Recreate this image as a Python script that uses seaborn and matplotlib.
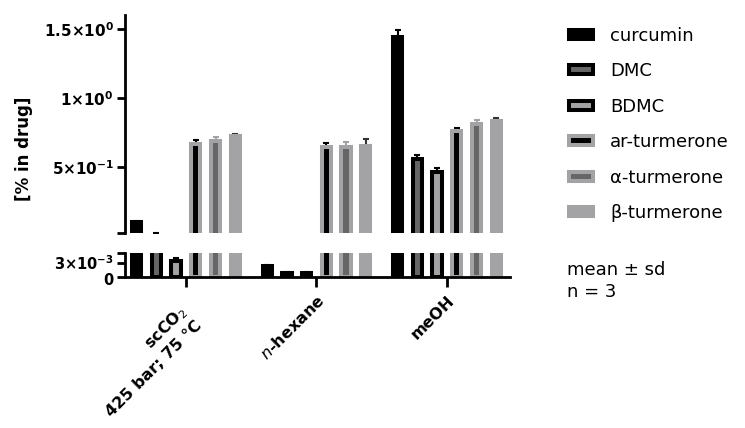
import numpy as np
import pandas as pd
import matplotlib
matplotlib.use("Agg")
import matplotlib.pyplot as plt
import matplotlib.transforms as mtransforms
import seaborn as sns

# datos (media y desvio, n = 3)
solventes = ["scCO2", "n-hexane", "meOH"]
compuestos = ["curcumin", "DMC", "BDMC", "ar-turmerone", "α-turmerone", "β-turmerone"]

media_curcumin = [0.105, 0.00232, 1.444]
media_dmc = [0.008, 0.00095, 0.558]
media_bdmc = [0.00329, 0.00095, 0.466]
media_ar = [0.667, 0.643, 0.762]
media_alfa = [0.692, 0.643, 0.813]
media_beta = [0.723, 0.656, 0.835]

sd_curcumin = [0.008, 0.0002, 0.046]
sd_dmc = [0.0185, 0.0001, 0.029]
sd_bdmc = [0.00078, 0.0001, 0.031]
sd_ar = [0.027, 0.031, 0.025]
sd_alfa = [0.026, 0.036, 0.029]
sd_beta = [0.020, 0.046, 0.022]

etiquetas_x = ["scCO$_\\mathrm{2}$\n425 bar; 75 °C", "$\\mathit{n}$-hexane", "meOH"]

medias = [media_curcumin, media_dmc, media_bdmc, media_ar, media_alfa, media_beta]
sds = [sd_curcumin, sd_dmc, sd_bdmc, sd_ar, sd_alfa, sd_beta]

filas = []
for c, m in zip(compuestos, medias):
    for s, v in zip(solventes, m):
        filas.append({"solvente": s, "compuesto": c, "media": v})
df = pd.DataFrame(filas)

# estilo tipo Prism
negro = "#000000"
oscuro = "#666666"
claro = "#a3a3a6"
rellenos = [negro, oscuro, claro, negro, oscuro, claro]
bordes = [negro, negro, negro, claro, claro, claro]
col_err = [negro, negro, negro, negro, claro, "#333333"]

sns.set_style("ticks")
plt.rcParams['font.family'] = ['DejaVu Sans']
plt.rcParams['mathtext.fontset'] = 'dejavusans'
for k in ['text.color', 'axes.labelcolor', 'xtick.color', 'ytick.color', 'axes.edgecolor']:
    plt.rcParams[k] = 'black'

fig = plt.figure(figsize=(7.45, 4.28), dpi=100)
ax_top = fig.add_axes([0.1678, 0.4556, 0.5168, 0.5093])
ax_bot = fig.add_axes([0.1678, 0.3521, 0.5168, 0.0568])

for ax in (ax_top, ax_bot):
    sns.barplot(data=df, x="solvente", y="media", hue="compuesto",
                order=solventes, hue_order=compuestos,
                palette=dict(zip(compuestos, rellenos)),
                errorbar=None, width=0.906, gap=0.528, legend=False, ax=ax)
    barras = list(ax.containers)
    for i, cont in enumerate(barras):
        for p in cont.patches:
            p.set_facecolor(rellenos[i])
            p.set_edgecolor(bordes[i])
            p.set_linewidth(2.9)
        xs = [p.get_x() + p.get_width() / 2 for p in cont.patches]
        ax.errorbar(xs, medias[i], yerr=[np.zeros(len(xs)), sds[i]], fmt='none',
                    ecolor=col_err[i], elinewidth=1.5, capsize=2.5, capthick=1.5,
                    zorder=0.5)
    ax.set_xlim(-0.467, 2.483)
    ax.set_xlabel("")
    ax.set_ylabel("")
    for lado in ["top", "right"]:
        ax.spines[lado].set_visible(False)
    ax.spines["left"].set_linewidth(2)
    ax.spines["bottom"].set_linewidth(2)
    ax.tick_params(axis='y', length=6, width=2, pad=2)

#%% segmento de arriba
ax_top.set_ylim(0.025, 1.6)
ax_top.spines["bottom"].set_visible(False)
ax_top.set_xticks([])
ax_top.set_yticks([0.025, 0.5, 1.0, 1.5],
                  ['', '5×10$^{\\mathbf{-1}}$', '1×10$^{\\mathbf{0}}$', '1.5×10$^{\\mathbf{0}}$'],
                  fontsize=11, fontweight='bold')

#%% segmento de abajo
ax_bot.set_ylim(0, 0.005)
ax_bot.set_yticks([0, 0.003, 0.005], ['0', '3×10$^{\\mathbf{-3}}$', ''],
                  fontsize=10.5, fontweight='bold')
ax_bot.set_xticks([0, 1, 2], etiquetas_x, rotation=45, ha='right',
                  rotation_mode='anchor', fontsize=11.5, fontweight='bold',
                  multialignment='right', linespacing=1.3)
ax_bot.tick_params(axis='x', length=7, width=2, pad=4)

# la etiqueta de dos lineas va un poco corrida hacia abajo a la izquierda
lab0 = ax_bot.get_xticklabels()[0]
lab0.set_transform(lab0.get_transform() +
                   mtransforms.ScaledTranslation(-0.08, -0.10, fig.dpi_scale_trans))
# separar un poco el 0 del 3x10^-3
ylab0 = ax_bot.get_yticklabels()[0]
ylab0.set_transform(ylab0.get_transform() +
                    mtransforms.ScaledTranslation(0, -0.02, fig.dpi_scale_trans))
ylab1 = ax_bot.get_yticklabels()[1]
ylab1.set_transform(ylab1.get_transform() +
                    mtransforms.ScaledTranslation(0, 0.01, fig.dpi_scale_trans))

fig.text(24 / 745, 1 - 148.5 / 428, "[% in drug]", rotation=90, ha='center',
         va='center', fontsize=12, fontweight='bold')

handles = [ax_top.containers[i].patches[0] for i in range(len(compuestos))]
fig.legend(handles, compuestos, loc='upper left', bbox_to_anchor=(569 / 745, 0.937),
           frameon=False, fontsize=13, handlelength=1.31, handleheight=0.40,
           handletextpad=0.98, labelspacing=0.965, borderpad=0, borderaxespad=0)

fig.text(567 / 745, 1 - 281 / 428, "mean ± sd\nn = 3", ha='left', va='center',
         fontsize=13, linespacing=1.33)

fig.savefig("out.png", dpi=100)
